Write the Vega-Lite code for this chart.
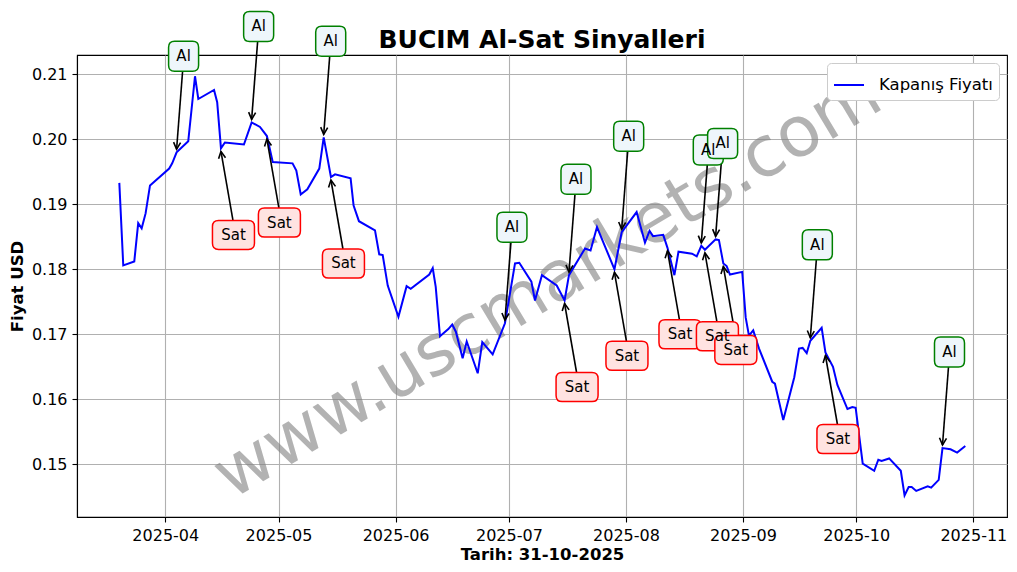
{
  "$schema": "https://vega.github.io/schema/vega-lite/v6.json",
  "width": 930,
  "height": 462,
  "autosize": "none",
  "padding": {"left": 77, "top": 55, "right": 10, "bottom": 55},
  "background": "white",
  "config": {
    "font": "DejaVu Sans",
    "view": {"stroke": "black", "strokeWidth": 1.1},
    "axis": {
      "labelFont": "DejaVu Sans",
      "labelFontSize": 16,
      "labelColor": "black",
      "tickColor": "black",
      "tickSize": 5,
      "tickWidth": 1.1,
      "labelPadding": 5,
      "domainColor": "black",
      "domainWidth": 1.1,
      "grid": true,
      "gridColor": "#b0b0b0",
      "gridWidth": 1.1,
      "titleFont": "DejaVu Sans",
      "titleFontSize": 16.5,
      "titleFontWeight": "bold",
      "titleColor": "black"
    }
  },
  "title": {
    "text": "BUCIM Al-Sat Sinyalleri",
    "fontSize": 25,
    "fontWeight": "bold",
    "font": "DejaVu Sans",
    "color": "black",
    "anchor": "middle",
    "baseline": "alphabetic",
    "offset": 7,
    "dy": 72
  },
  "datasets": {
    "price": [
      {"date": "2025-03-19T20:00", "price": 0.1933},
      {"date": "2025-03-20T21:00", "price": 0.1806},
      {"date": "2025-03-23T19:00", "price": 0.1812},
      {"date": "2025-03-24T20:00", "price": 0.1871},
      {"date": "2025-03-25T18:00", "price": 0.1863},
      {"date": "2025-03-26T19:00", "price": 0.1886},
      {"date": "2025-03-27T23:00", "price": 0.1929},
      {"date": "2025-04-02T01:00", "price": 0.1955},
      {"date": "2025-04-02T20:00", "price": 0.1963},
      {"date": "2025-04-04T00:00", "price": 0.1980},
      {"date": "2025-04-07T02:00", "price": 0.1997},
      {"date": "2025-04-08T21:00", "price": 0.2097},
      {"date": "2025-04-09T18:00", "price": 0.2062},
      {"date": "2025-04-13T22:00", "price": 0.2076},
      {"date": "2025-04-14T18:00", "price": 0.2057},
      {"date": "2025-04-15T18:00", "price": 0.1986},
      {"date": "2025-04-16T19:00", "price": 0.1995},
      {"date": "2025-04-21T20:00", "price": 0.1992},
      {"date": "2025-04-23T21:00", "price": 0.2026},
      {"date": "2025-04-26T02:00", "price": 0.2019},
      {"date": "2025-04-27T22:00", "price": 0.2005},
      {"date": "2025-04-29T11:00", "price": 0.1965},
      {"date": "2025-05-04T17:00", "price": 0.1963},
      {"date": "2025-05-05T17:00", "price": 0.1952},
      {"date": "2025-05-06T21:00", "price": 0.1915},
      {"date": "2025-05-08T15:00", "price": 0.1923},
      {"date": "2025-05-11T19:00", "price": 0.1955},
      {"date": "2025-05-12T23:00", "price": 0.2003},
      {"date": "2025-05-14T21:00", "price": 0.1942},
      {"date": "2025-05-15T23:00", "price": 0.1946},
      {"date": "2025-05-20T02:00", "price": 0.1940},
      {"date": "2025-05-20T21:00", "price": 0.1898},
      {"date": "2025-05-22T07:00", "price": 0.1874},
      {"date": "2025-05-26T13:00", "price": 0.1860},
      {"date": "2025-05-27T16:00", "price": 0.1823},
      {"date": "2025-05-28T14:00", "price": 0.1822},
      {"date": "2025-05-29T22:00", "price": 0.1775},
      {"date": "2025-06-01T18:00", "price": 0.1727},
      {"date": "2025-06-03T22:00", "price": 0.1774},
      {"date": "2025-06-05T00:00", "price": 0.1770},
      {"date": "2025-06-09T22:00", "price": 0.1792},
      {"date": "2025-06-10T20:00", "price": 0.1802},
      {"date": "2025-06-11T15:00", "price": 0.1773},
      {"date": "2025-06-12T18:00", "price": 0.1697},
      {"date": "2025-06-14T23:00", "price": 0.1708},
      {"date": "2025-06-16T00:00", "price": 0.1715},
      {"date": "2025-06-16T23:00", "price": 0.1704},
      {"date": "2025-06-18T18:00", "price": 0.1663},
      {"date": "2025-06-19T20:00", "price": 0.1689},
      {"date": "2025-06-22T18:00", "price": 0.1640},
      {"date": "2025-06-23T23:00", "price": 0.1688},
      {"date": "2025-06-26T17:00", "price": 0.1669},
      {"date": "2025-06-29T23:00", "price": 0.1717},
      {"date": "2025-07-02T15:00", "price": 0.1809},
      {"date": "2025-07-03T18:00", "price": 0.1810},
      {"date": "2025-07-06T23:00", "price": 0.1781},
      {"date": "2025-07-07T22:00", "price": 0.1752},
      {"date": "2025-07-09T18:00", "price": 0.1791},
      {"date": "2025-07-13T16:00", "price": 0.1775},
      {"date": "2025-07-15T18:00", "price": 0.1752},
      {"date": "2025-07-16T22:00", "price": 0.1791},
      {"date": "2025-07-21T04:00", "price": 0.1832},
      {"date": "2025-07-22T15:00", "price": 0.1829},
      {"date": "2025-07-24T08:00", "price": 0.1865},
      {"date": "2025-07-28T23:00", "price": 0.1800},
      {"date": "2025-07-30T21:00", "price": 0.1857},
      {"date": "2025-08-03T20:00", "price": 0.1888},
      {"date": "2025-08-06T01:00", "price": 0.1841},
      {"date": "2025-08-07T06:00", "price": 0.1859},
      {"date": "2025-08-08T04:00", "price": 0.1851},
      {"date": "2025-08-10T21:00", "price": 0.1853},
      {"date": "2025-08-12T00:00", "price": 0.1833},
      {"date": "2025-08-13T20:00", "price": 0.1791},
      {"date": "2025-08-14T22:00", "price": 0.1827},
      {"date": "2025-08-18T12:00", "price": 0.1824},
      {"date": "2025-08-19T18:00", "price": 0.1820},
      {"date": "2025-08-20T23:00", "price": 0.1836},
      {"date": "2025-08-21T22:00", "price": 0.1830},
      {"date": "2025-08-24T18:00", "price": 0.1846},
      {"date": "2025-08-25T15:00", "price": 0.1845},
      {"date": "2025-08-26T19:00", "price": 0.1809},
      {"date": "2025-08-27T16:00", "price": 0.1805},
      {"date": "2025-08-28T13:00", "price": 0.1792},
      {"date": "2025-08-31T19:00", "price": 0.1796},
      {"date": "2025-09-01T17:00", "price": 0.1726},
      {"date": "2025-09-02T14:00", "price": 0.1698},
      {"date": "2025-09-03T17:00", "price": 0.1706},
      {"date": "2025-09-05T06:00", "price": 0.1678},
      {"date": "2025-09-08T18:00", "price": 0.1627},
      {"date": "2025-09-09T11:00", "price": 0.1624},
      {"date": "2025-09-11T16:00", "price": 0.1568},
      {"date": "2025-09-14T14:00", "price": 0.1634},
      {"date": "2025-09-15T20:00", "price": 0.1678},
      {"date": "2025-09-16T19:00", "price": 0.1679},
      {"date": "2025-09-17T21:00", "price": 0.1671},
      {"date": "2025-09-18T20:00", "price": 0.1690},
      {"date": "2025-09-21T20:00", "price": 0.1710},
      {"date": "2025-09-22T20:00", "price": 0.1672},
      {"date": "2025-09-24T20:00", "price": 0.1650},
      {"date": "2025-09-26T00:00", "price": 0.1622},
      {"date": "2025-09-28T16:00", "price": 0.1585},
      {"date": "2025-09-29T23:00", "price": 0.1588},
      {"date": "2025-09-30T20:00", "price": 0.1587},
      {"date": "2025-10-02T17:00", "price": 0.1501},
      {"date": "2025-10-05T18:00", "price": 0.1490},
      {"date": "2025-10-06T20:00", "price": 0.1507},
      {"date": "2025-10-07T17:00", "price": 0.1505},
      {"date": "2025-10-09T17:00", "price": 0.1509},
      {"date": "2025-10-12T19:00", "price": 0.1490},
      {"date": "2025-10-13T19:00", "price": 0.1452},
      {"date": "2025-10-14T21:00", "price": 0.1465},
      {"date": "2025-10-15T16:00", "price": 0.1465},
      {"date": "2025-10-16T21:00", "price": 0.1459},
      {"date": "2025-10-19T22:00", "price": 0.1466},
      {"date": "2025-10-20T20:00", "price": 0.1464},
      {"date": "2025-10-22T20:00", "price": 0.1476},
      {"date": "2025-10-23T20:00", "price": 0.1525},
      {"date": "2025-10-25T23:00", "price": 0.1523},
      {"date": "2025-10-27T17:00", "price": 0.1518},
      {"date": "2025-10-29T21:00", "price": 0.1528}
    ],
    "signals": [
      {"date": "2025-04-04T00:00", "price": 0.1980, "signal": "Al"},
      {"date": "2025-04-23T21:00", "price": 0.2026, "signal": "Al"},
      {"date": "2025-05-12T23:00", "price": 0.2003, "signal": "Al"},
      {"date": "2025-06-29T23:00", "price": 0.1717, "signal": "Al"},
      {"date": "2025-07-16T22:00", "price": 0.1791, "signal": "Al"},
      {"date": "2025-07-30T21:00", "price": 0.1857, "signal": "Al"},
      {"date": "2025-08-20T23:00", "price": 0.1836, "signal": "Al"},
      {"date": "2025-08-24T18:00", "price": 0.1846, "signal": "Al"},
      {"date": "2025-09-18T20:00", "price": 0.1690, "signal": "Al"},
      {"date": "2025-10-23T20:00", "price": 0.1525, "signal": "Al"},
      {"date": "2025-04-15T18:00", "price": 0.1986, "signal": "Sat"},
      {"date": "2025-04-27T22:00", "price": 0.2005, "signal": "Sat"},
      {"date": "2025-05-14T21:00", "price": 0.1942, "signal": "Sat"},
      {"date": "2025-07-15T18:00", "price": 0.1752, "signal": "Sat"},
      {"date": "2025-07-28T23:00", "price": 0.1800, "signal": "Sat"},
      {"date": "2025-08-12T00:00", "price": 0.1833, "signal": "Sat"},
      {"date": "2025-08-21T22:00", "price": 0.1830, "signal": "Sat"},
      {"date": "2025-08-26T19:00", "price": 0.1809, "signal": "Sat"},
      {"date": "2025-09-22T20:00", "price": 0.1672, "signal": "Sat"}
    ],
    "watermark": [
      {"date": "2025-07-11T08:00", "price": 0.1775, "wm": "www.uscmarkets.com"}
    ]
  },
  "encoding": {
    "x": {
      "field": "date",
      "type": "temporal",
      "scale": {
        "domain": [
          {"year": 2025, "month": 3, "date": 8, "hours": 15},
          {"year": 2025, "month": 11, "date": 9, "hours": 22}
        ],
        "nice": false
      },
      "axis": {
        "title": "Tarih: 31-10-2025",
        "format": "%Y-%m",
        "labelAngle": 0,
        "titlePadding": 3,
        "values": [
          {"year": 2025, "month": 4, "date": 1},
          {"year": 2025, "month": 5, "date": 1},
          {"year": 2025, "month": 6, "date": 1},
          {"year": 2025, "month": 7, "date": 1},
          {"year": 2025, "month": 8, "date": 1},
          {"year": 2025, "month": 9, "date": 1},
          {"year": 2025, "month": 10, "date": 1},
          {"year": 2025, "month": 11, "date": 1}
        ]
      }
    },
    "y": {
      "field": "price",
      "type": "quantitative",
      "scale": {"domain": [0.14189, 0.21297], "nice": false, "zero": false},
      "axis": {
        "title": "Fiyat USD",
        "format": ".2f",
        "values": [0.15, 0.16, 0.17, 0.18, 0.19, 0.20, 0.21],
        "titlePadding": 6
      }
    }
  },
  "layer": [
    {
      "data": {"name": "watermark"},
      "mark": {
        "type": "text",
        "fontSize": 70,
        "font": "DejaVu Sans",
        "angle": -31,
        "align": "center",
        "baseline": "middle",
        "color": "#808080",
        "opacity": 0.6
      },
      "encoding": {
        "text": {"field": "wm", "type": "nominal"}
      }
    },
    {
      "data": {"name": "price"},
      "mark": {"type": "line", "strokeWidth": 2},
      "encoding": {
        "color": {
          "datum": "Kapanış Fiyatı",
          "type": "nominal",
          "scale": {"range": ["#0000ff"]},
          "legend": {
            "orient": "top-right",
            "offset": 8,
            "title": null,
            "symbolType": "stroke",
            "symbolStrokeWidth": 2,
            "symbolSize": 900,
            "labelFontSize": 16.5,
            "labelFont": "DejaVu Sans",
            "labelColor": "black",
            "labelOffset": 14,
            "fillColor": "white",
            "strokeColor": "#cccccc",
            "cornerRadius": 4,
            "padding": 6
          }
        }
      }
    },
    {
      "data": {"name": "signals"},
      "transform": [{"filter": "datum.signal === 'Al'"}],
      "layer": [
        {
          "mark": {"type": "rule", "color": "black", "strokeWidth": 1.6, "yOffset": -3, "x2Offset": 6, "y2Offset": -81},
          "encoding": {"x2": {"field": "date"}, "y2": {"field": "price"}}
        },
        {
          "mark": {"type": "point", "shape": "M-0.5,-1L0,0L0.5,-1", "filled": false, "stroke": "black", "strokeWidth": 1.6, "size": 196, "angle": 4, "yOffset": -3, "opacity": 1}
        },
        {
          "mark": {"type": "point", "shape": "M-1,-0.6Q-1,-1,-0.6,-1L0.6,-1Q1,-1,1,-0.6L1,0.6Q1,1,0.6,1L-0.6,1Q-1,1,-1,0.6Z", "filled": true, "fill": "#eef6fb", "stroke": "green", "strokeWidth": 1.5, "size": 900, "xOffset": 7, "yOffset": -96, "opacity": 1}
        },
        {
          "mark": {"type": "text", "fontSize": 15, "font": "DejaVu Sans", "color": "black", "dx": 7, "dy": -96, "align": "center", "baseline": "middle"},
          "encoding": {"text": {"field": "signal"}}
        }
      ]
    },
    {
      "data": {"name": "signals"},
      "transform": [{"filter": "datum.signal === 'Sat'"}],
      "layer": [
        {
          "mark": {"type": "rule", "color": "black", "strokeWidth": 1.6, "yOffset": 3, "x2Offset": 12, "y2Offset": 72},
          "encoding": {"x2": {"field": "date"}, "y2": {"field": "price"}}
        },
        {
          "mark": {"type": "point", "shape": "M-0.5,1L0,0L0.5,1", "filled": false, "stroke": "black", "strokeWidth": 1.6, "size": 196, "angle": -9, "yOffset": 3, "opacity": 1}
        },
        {
          "mark": {"type": "point", "shape": "M-1,-0.4Q-1,-0.69,-0.71,-0.69L0.71,-0.69Q1,-0.69,1,-0.4L1,0.4Q1,0.69,0.71,0.69L-0.71,0.69Q-1,0.69,-1,0.4Z", "filled": true, "fill": "#ffe3e1", "stroke": "red", "strokeWidth": 1.5, "size": 1764, "xOffset": 12.5, "yOffset": 86.5, "opacity": 1}
        },
        {
          "mark": {"type": "text", "fontSize": 15, "font": "DejaVu Sans", "color": "black", "dx": 12.5, "dy": 86.5, "align": "center", "baseline": "middle"},
          "encoding": {"text": {"field": "signal"}}
        }
      ]
    }
  ]
}
